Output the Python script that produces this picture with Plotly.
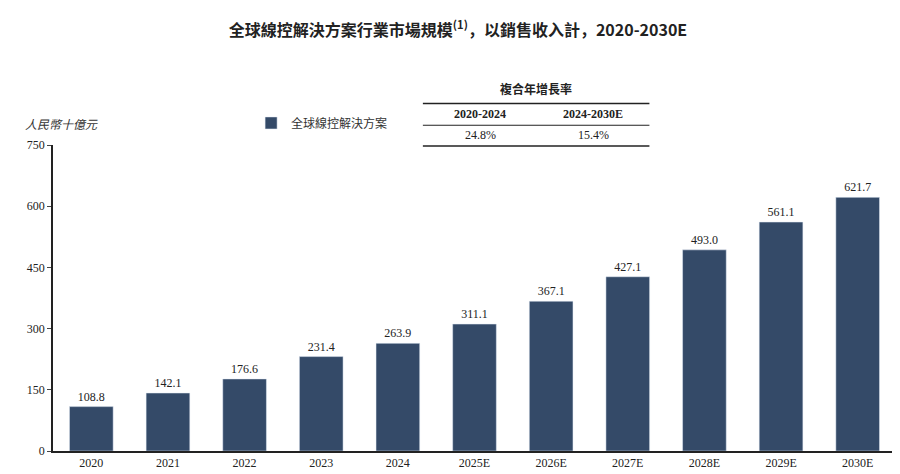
import plotly.graph_objects as go

years = ["2020","2021","2022","2023","2024","2025E","2026E","2027E","2028E","2029E","2030E"]
values = [108.8,142.1,176.6,231.4,263.9,311.1,367.1,427.1,493.0,561.1,621.7]
cagr_periods = ["2020-2024","2024-2030E"]
cagr_values = ["24.8%","15.4%"]

serif = "Liberation Serif, Noto Sans CJK SC"
color = "#344a68"

fig = go.Figure(go.Bar(
    x=years, y=values, marker_color=color, width=0.57,
    text=[f"{v:.1f}" for v in values], textposition="outside",
    textfont=dict(family=serif, size=12, color="#222"),
    name="全球線控解決方案", cliponaxis=False))

fig.update_layout(
    width=900, height=474, plot_bgcolor="white", paper_bgcolor="white",
    margin=dict(l=45, r=12, t=137, b=27),
    font=dict(family=serif, size=12, color="#222"),
    showlegend=True,
    legend=dict(x=0.235, y=1.072, xanchor="left", yanchor="middle",
                font=dict(family="Noto Sans CJK SC", size=12, color="#333"),
                bgcolor="rgba(0,0,0,0)"),
    title=dict(text="<b>全球線控解決方案行業市場規模<sup>(1)</sup>，以銷售收入計，2020-2030E</b>",
               x=0.5, xanchor="center", y=0.965,
               font=dict(family="Noto Sans CJK SC", size=16, color="#222")),
)
fig.update_xaxes(showline=True, linecolor="#222", linewidth=1.5, ticks="",
                 tickfont=dict(family=serif, size=12), range=[-0.5, 10.5])
fig.update_yaxes(range=[0, 750], tickvals=[0,150,300,450,600,750], showgrid=False,
                 showline=True, linecolor="#222", linewidth=1.5, ticks="outside",
                 ticklen=4, tickfont=dict(family=serif, size=12))

fig.add_annotation(text="<i>人民幣十億元</i>", xref="paper", yref="paper", x=-0.035, y=1.07,
                   xanchor="left", yanchor="middle", showarrow=False,
                   font=dict(family="Noto Sans CJK SC", size=12, color="#333"))

def px(xp): return (xp - 47) / (888 - 47)
def py(yp): return (447 - yp) / (447 - 137)
x0, xm, x1 = 416, 530, 642
fig.add_annotation(text="<b>複合年增長率</b>", xref="paper", yref="paper", x=px((x0+x1)/2), y=py(80),
                   yanchor="middle", showarrow=False, font=dict(family="Noto Sans CJK SC", size=12))
for yl, w in [(95, 1.5), (117, 1.2), (138, 1.5)]:
    fig.add_shape(type="line", xref="paper", yref="paper", x0=px(x0), x1=px(x1),
                  y0=py(yl), y1=py(yl), line=dict(color="#222", width=w))
for i, (p, v) in enumerate(zip(cagr_periods, cagr_values)):
    cx = px((x0+xm)/2 if i == 0 else (xm+x1)/2)
    fig.add_annotation(text=f"<b>{p}</b>", xref="paper", yref="paper", x=cx, y=py(106),
                       yanchor="middle", showarrow=False, font=dict(family=serif, size=12))
    fig.add_annotation(text=v, xref="paper", yref="paper", x=cx, y=py(127),
                       yanchor="middle", showarrow=False, font=dict(family=serif, size=12))

fig.write_html("out.html")
